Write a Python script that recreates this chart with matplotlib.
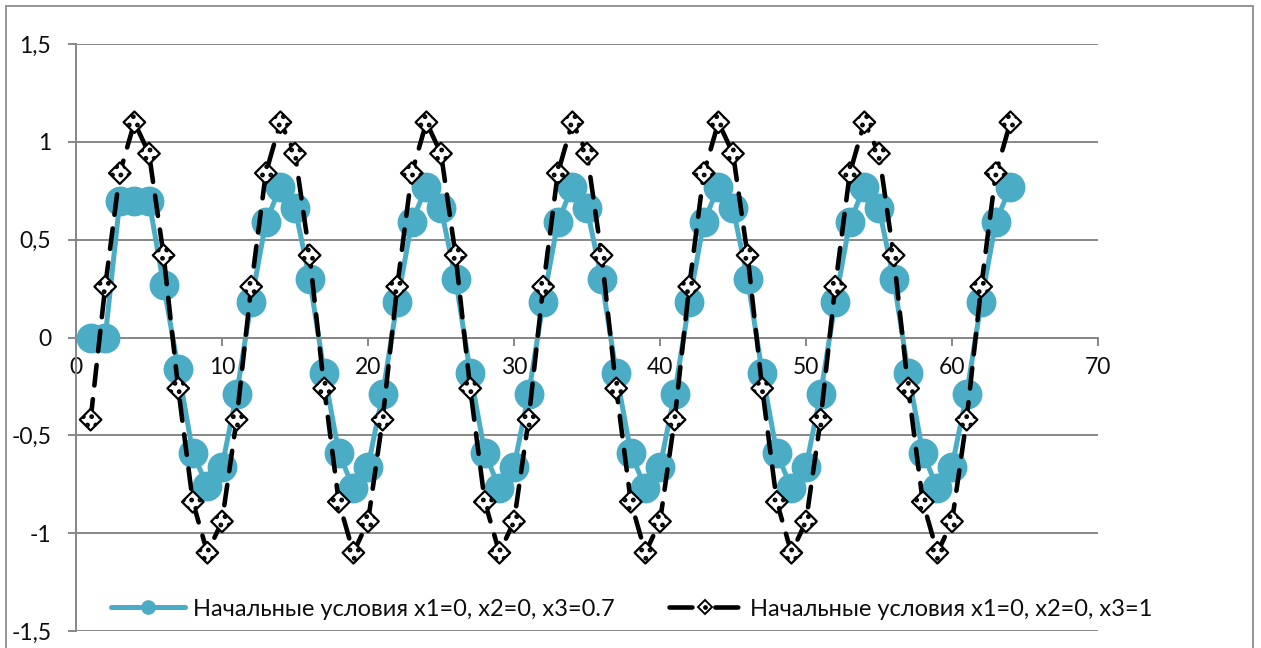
import matplotlib
matplotlib.use("Agg")
import matplotlib.pyplot as plt
from matplotlib.lines import Line2D
from matplotlib.patches import Rectangle
from matplotlib.legend_handler import HandlerTuple
from matplotlib.ticker import FuncFormatter, MultipleLocator

plt.rcParams['font.family'] = ['Lato', 'Noto Sans', 'DejaVu Sans']
plt.rcParams['hatch.color'] = 'black'
plt.rcParams['hatch.linewidth'] = 2.2

# time steps
steps = list(range(1, 65))

# x3 = 0.7 start
series_07 = [
    0.00, 0.00, 0.70, 0.70, 0.70, 0.27, -0.16, -0.59, -0.76, -0.66,
    -0.29, 0.18, 0.59, 0.77, 0.66, 0.30, -0.18, -0.59, -0.77, -0.66,
    -0.29, 0.18, 0.59, 0.77, 0.66, 0.30, -0.18, -0.59, -0.77, -0.66,
    -0.29, 0.18, 0.59, 0.77, 0.66, 0.30, -0.18, -0.59, -0.77, -0.66,
    -0.29, 0.18, 0.59, 0.77, 0.66, 0.30, -0.18, -0.59, -0.77, -0.66,
    -0.29, 0.18, 0.59, 0.77, 0.66, 0.30, -0.18, -0.59, -0.77, -0.66,
    -0.29, 0.18, 0.59, 0.77,
]

# x3 = 1 start
series_1 = [
    -0.42, 0.26, 0.84, 1.10, 0.94, 0.42, -0.26, -0.84, -1.10, -0.94,
    -0.42, 0.26, 0.84, 1.10, 0.94, 0.42, -0.26, -0.84, -1.10, -0.94,
    -0.42, 0.26, 0.84, 1.10, 0.94, 0.42, -0.26, -0.84, -1.10, -0.94,
    -0.42, 0.26, 0.84, 1.10, 0.94, 0.42, -0.26, -0.84, -1.10, -0.94,
    -0.42, 0.26, 0.84, 1.10, 0.94, 0.42, -0.26, -0.84, -1.10, -0.94,
    -0.42, 0.26, 0.84, 1.10, 0.94, 0.42, -0.26, -0.84, -1.10, -0.94,
    -0.42, 0.26, 0.84, 1.10,
]

labels = [
    "Начальные условия x1=0, x2=0, x3=0.7",
    "Начальные условия x1=0, x2=0, x3=1",
]

BLUE = "#4BACC6"
GRID = "#878787"
TEXT = "#0d0d0d"

W, H = 1261, 648
fig = plt.figure(figsize=(W / 100, H / 100), dpi=100)
fig.patch.set_facecolor("white")

# outer chart frame
fig.patches.append(Rectangle((5.5 / W, -0.05), 1247.5 / W, 1.05 - 6.5 / H,
                             transform=fig.transFigure, fill=False,
                             edgecolor="#8c8c8c", linewidth=1.3, zorder=0))

ax = fig.add_axes([76 / W, 1 - 631 / H, (1098 - 76) / W, (631 - 44) / H])
ax.set_xlim(0, 70)
ax.set_ylim(-1.5, 1.5)

# blue series
ax.plot(steps, series_07, color=BLUE, linewidth=3.6, zorder=2,
        solid_capstyle="round", solid_joinstyle="round")
ax.plot(steps, series_07, linestyle="none", marker="o", markersize=20.5,
        markerfacecolor=BLUE, markeredgecolor=BLUE, zorder=3)

# black dashed series
ax.plot(steps, series_1, color="black", linewidth=3.3, dashes=(4.5, 3),
        dash_capstyle="round", zorder=4)
ax.scatter(steps, series_1, marker="D", s=11 ** 2, facecolor="white",
           edgecolor="black", linewidths=1.6, hatch="..", zorder=5)

# axes styling
for side in ("top", "right"):
    ax.spines[side].set_visible(False)
ax.spines["left"].set_color(GRID)
ax.spines["left"].set_linewidth(1.4)
ax.spines["bottom"].set_position(("data", 0))
ax.spines["bottom"].set_color(GRID)
ax.spines["bottom"].set_linewidth(1.4)

ax.xaxis.set_major_locator(MultipleLocator(10))
ax.yaxis.set_major_locator(MultipleLocator(0.5))
ax.yaxis.set_major_formatter(FuncFormatter(lambda v, p: f"{v:g}".replace(".", ",")))
ax.tick_params(axis="both", direction="out", length=5.8, width=1.4,
               color=GRID, labelsize=16.5, labelcolor=TEXT)
ax.tick_params(axis="y", pad=12)
ax.tick_params(axis="x", pad=8)
ax.grid(axis="y", color=GRID, linewidth=1.4, zorder=0)
ax.set_axisbelow(True)

# legend
h_blue = Line2D([], [], color=BLUE, linewidth=3.6, marker="o", markersize=9.5,
                markerfacecolor=BLUE, markeredgecolor=BLUE,
                solid_capstyle="round")
h_line = Line2D([], [], color="black", linewidth=3.3, dashes=(5, 5),
                dash_capstyle="round")
h_diam = Line2D([], [], linestyle="none", marker="D", markersize=7.5,
                markerfacecolor="white", markeredgecolor="black",
                markeredgewidth=1.4)
h_dot = Line2D([], [], linestyle="none", marker="o", markersize=2.4,
               markerfacecolor="black", markeredgecolor="black")
leg = fig.legend([h_blue, (h_line, h_diam, h_dot)], labels, ncol=2,
                 loc="center", bbox_to_anchor=(632 / W, 1 - 609 / H),
                 frameon=True, facecolor="white", edgecolor="none",
                 framealpha=1, fontsize=17, handlelength=3.1,
                 handletextpad=0.35, columnspacing=2.3, borderpad=0.2,
                 handler_map={tuple: HandlerTuple(ndivide=1, pad=0)})
for t in leg.get_texts():
    t.set_color(TEXT)

fig.savefig("out.png", dpi=100, facecolor="white")
